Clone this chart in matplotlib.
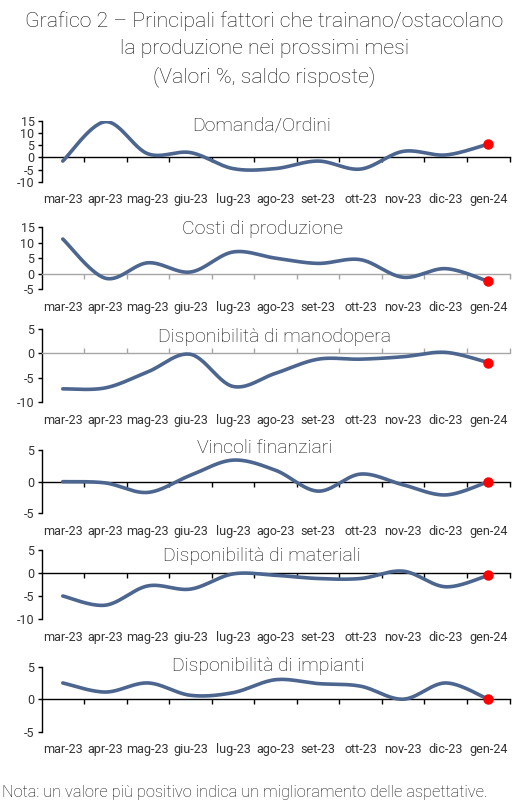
import numpy as np
import matplotlib
matplotlib.use('Agg')
import matplotlib.pyplot as plt

plt.rcParams['font.family'] = ['Roboto', 'DejaVu Sans']

months = ['mar-23', 'apr-23', 'mag-23', 'giu-23', 'lug-23', 'ago-23',
          'set-23', 'ott-23', 'nov-23', 'dic-23', 'gen-24']

domanda = [-1.5, 14.7, 1.5, 2.0, -4.6, -4.6, -1.5, -4.8, 2.5, 1.0, 5.5]
costi = [11.2, -1.5, 3.5, 0.5, 7.0, 5.0, 3.3, 4.5, -1.2, 1.6, -2.5]
manodopera = [-7.3, -7.1, -3.8, -0.2, -6.8, -4.1, -1.2, -1.2, -0.7, 0.2, -1.9]
vincoli = [0.0, -0.2, -1.7, 1.0, 3.4, 1.8, -1.5, 1.2, -0.5, -2.1, 0.0]
materiali = [-5.0, -7.0, -2.8, -3.5, -0.2, -0.5, -1.2, -1.2, 0.4, -3.0, -0.5]
impianti = [2.5, 1.1, 2.5, 0.6, 1.0, 3.0, 2.4, 2.0, 0.0, 2.5, 0.0]

titles = ['Domanda/Ordini', 'Costi di produzione', 'Disponibilità di manodopera',
          'Vincoli finanziari', 'Disponibilità di materiali', 'Disponibilità di impianti']
series = [domanda, costi, manodopera, vincoli, materiali, impianti]
ylims = [(-10, 15), (-5, 15), (-10, 5), (-5, 5), (-10, 5), (-5, 5)]

# layout in pixels (top, bottom of plot area), title centre (x, y)
W, H = 529, 807
boxes = [(121, 181.7), (227.3, 289), (329, 402), (450, 513.3), (550, 619), (666.7, 731.7)]
title_pos = [(262, 125), (262, 229), (275, 337), (265, 448), (262, 556), (268, 666)]
zero_col = ['black', '#a6a6a6', '#a6a6a6', 'black', 'black', 'black']
tick_dir = ['out', 'out', 'in', 'out', 'out', 'out']
LEFT, RIGHT = 41.5, 509.5

LINE = '#4c6690'
TXT = '#333333'
DARK = '#111111'


def smooth(ys, n=30):
    """excel-like bezier smoothing through the points"""
    y = np.asarray(ys, float)
    x = np.arange(len(y), dtype=float)
    P = np.column_stack([x, y])
    P = np.vstack([P[0], P, P[-1]])
    out = []
    t = np.linspace(0, 1, n)[:, None]
    for i in range(1, len(P) - 2):
        p0, p1, p2, p3 = P[i - 1], P[i], P[i + 1], P[i + 2]
        c1 = p1 + (p2 - p0) / 6
        c2 = p2 - (p3 - p1) / 6
        seg = ((1 - t) ** 3) * p1 + 3 * ((1 - t) ** 2) * t * c1 + 3 * (1 - t) * t ** 2 * c2 + t ** 3 * p2
        out.append(seg if i == 1 else seg[1:])
    out = np.vstack(out)
    return out[:, 0], out[:, 1]


fig = plt.figure(figsize=(W / 100, H / 100), dpi=100)

title_lines = ['Grafico 2 – Principali fattori che trainano/ostacolano',
               'la produzione nei prossimi mesi',
               '(Valori %, saldo risposte)']
for j, line in enumerate(title_lines):
    fig.text(0.5, 1 - (21 + 28 * j) / H, line, ha='center', va='center',
             fontsize=15.3, color=DARK, fontweight='light')

for k in range(6):
    top, bot = boxes[k]
    ax = fig.add_axes([LEFT / W, 1 - bot / H, (RIGHT - LEFT) / W, (bot - top) / H])
    vals = series[k]
    sx, sy = smooth(vals)
    ax.plot(sx, sy, color=LINE, lw=2.6, solid_capstyle='round', zorder=3)
    ax.plot([len(vals) - 1], [vals[-1]], 'o', color='#ff0000', ms=6.5, zorder=4)

    lo, hi = ylims[k]
    ax.set_ylim(lo, hi)
    ax.set_yticks(np.arange(lo, hi + 1, 5))
    ax.set_yticklabels([str(v) for v in np.arange(lo, hi + 1, 5)])
    ax.set_xlim(-0.5, len(months) - 0.5)
    ax.set_xticks(np.arange(0.5, len(months), 1.0))
    ax.set_xticklabels([])

    for s in ['top', 'right']:
        ax.spines[s].set_visible(False)
    ax.spines['bottom'].set_position(('data', 0))
    ax.spines['bottom'].set_color(zero_col[k])
    ax.spines['bottom'].set_linewidth(1.0)
    ax.spines['left'].set_linewidth(1.0)
    ax.tick_params(axis='x', direction=tick_dir[k], length=3.5, width=1.0, color=zero_col[k])
    ax.tick_params(axis='y', direction='out', length=3, width=1.0, labelsize=9,
                   labelcolor=TXT, pad=2)
    ax.patch.set_visible(False)

    for i, m in enumerate(months):
        ax.annotate(m, xy=(i, 0), xycoords=('data', 'axes fraction'),
                    xytext=(0, -13), textcoords='offset points',
                    ha='center', va='center', fontsize=9, color=TXT)

    tx, ty = title_pos[k]
    fig.text(tx / W, 1 - ty / H, titles[k], ha='center', va='center',
             fontsize=14, color=DARK, fontweight='light')

fig.text(2 / W, 1 - 793 / H,
         'Nota: un valore più positivo indica un miglioramento delle aspettative.',
         ha='left', va='center', fontsize=11.8, color=DARK, fontweight='light')

fig.savefig('out.png', dpi=100)
